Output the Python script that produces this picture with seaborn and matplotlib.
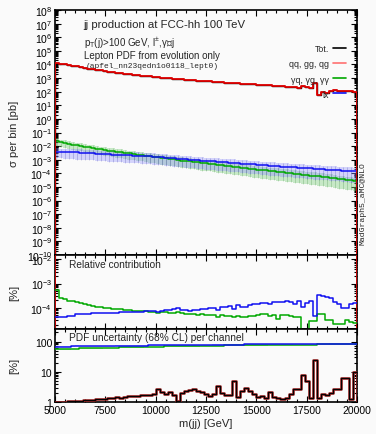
import numpy as np
import pandas as pd
import matplotlib
matplotlib.use("Agg")
import matplotlib.pyplot as plt
import seaborn as sns
from matplotlib.lines import Line2D
from matplotlib.ticker import LogLocator, NullFormatter, MultipleLocator

# ---------------- data ----------------
edges = list(range(5000, 20001, 200))  # 75 bins

total_pb = [12600, 11300, 10100, 9000, 8000,
            7100, 6300, 5600, 5000, 4450,
            3980, 3630, 3310, 3020, 2750,
            2510, 2300, 2110, 1930, 1770,
            1660, 1540, 1420, 1310, 1210,
            1175, 1090, 1010, 950, 890,
            850, 800, 760, 720, 690,
            660, 630, 590, 560, 530,
            520, 480, 470, 440, 450,
            400, 390, 380, 350, 345,
            330, 320, 300, 290, 270,
            250, 245, 230, 225, 205,
            200, 260, 210, 190, 430,
            55, 95, 85, 120, 130,
            120, 115, 110, 105, 100]

# lepton-initiated (lx) and photon-initiated cross sections, log10(pb)
lx_log = [-2.40, -2.41, -2.42, -2.43, -2.44,
          -2.45, -2.47, -2.49, -2.51, -2.53,
          -2.55, -2.57, -2.58, -2.60, -2.62,
          -2.64, -2.65, -2.66, -2.68, -2.69,
          -2.70, -2.72, -2.74, -2.76, -2.78,
          -2.80, -2.83, -2.85, -2.87, -2.90,
          -2.93, -2.95, -2.97, -2.99, -3.02,
          -3.05, -3.06, -3.09, -3.11, -3.13,
          -3.15, -3.17, -3.19, -3.21, -3.23,
          -3.25, -3.28, -3.30, -3.33, -3.35,
          -3.37, -3.40, -3.41, -3.44, -3.46,
          -3.48, -3.50, -3.52, -3.54, -3.56,
          -3.58, -3.60, -3.62, -3.62, -3.66,
          -3.68, -3.69, -3.72, -3.73, -3.75,
          -3.77, -3.80, -3.80, -3.84, -3.86]

ph_log = [-1.62, -1.72, -1.77, -1.83, -1.89,
          -1.95, -2.00, -2.05, -2.10, -2.15,
          -2.20, -2.24, -2.29, -2.33, -2.38,
          -2.42, -2.46, -2.50, -2.54, -2.58,
          -2.62, -2.66, -2.70, -2.74, -2.78,
          -2.82, -2.86, -2.90, -2.94, -2.98,
          -3.02, -3.06, -3.09, -3.13, -3.16,
          -3.20, -3.24, -3.27, -3.31, -3.34,
          -3.38, -3.42, -3.45, -3.48, -3.52,
          -3.55, -3.59, -3.62, -3.66, -3.69,
          -3.73, -3.76, -3.79, -3.82, -3.85,
          -3.89, -3.92, -3.95, -3.98, -4.02,
          -4.05, -4.09, -4.12, -4.16, -4.19,
          -4.22, -4.26, -4.30, -4.34, -4.37,
          -4.42, -4.45, -4.50, -4.50, -4.58]

# relative contributions, log10 of percent
rel_lx_log = [-4.40, -4.38, -4.36, -4.35, -4.33,
              -4.25, -4.24, -4.25, -4.24, -4.23,
              -4.23, -4.22, -4.22, -4.21, -4.20,
              -4.20, -4.19, -4.18, -4.18, -4.17,
              -4.17, -4.16, -4.15, -4.13, -4.14,
              -4.17, -4.12, -4.10, -4.11, -4.07,
              -4.02, -4.08, -4.10, -4.12, -4.11,
              -4.08, -4.05, -4.03, -4.00, -4.02,
              -4.10, -3.98, -3.95, -3.93, -4.05,
              -3.87, -3.95, -3.97, -3.90, -3.85,
              -3.84, -3.82, -3.80, -3.86, -3.78,
              -3.76, -3.75, -3.74, -3.78, -3.85,
              -3.72, -3.95, -3.80, -3.72, -4.33,
              -3.47, -3.50, -3.55, -3.60, -3.75,
              -3.85, -4.00, -4.00, -3.85, -3.80]

rel_ph_log = [-3.25, -3.60, -3.65, -3.70, -3.74,
              -3.78, -3.82, -3.86, -3.89, -3.92,
              -3.95, -3.97, -4.00, -4.02, -4.04,
              -4.06, -4.07, -4.09, -4.10, -4.12,
              -4.13, -4.14, -4.15, -4.16, -4.17,
              -4.22, -4.18, -4.19, -4.21, -4.20,
              -4.18, -4.23, -4.25, -4.27, -4.26,
              -4.28, -4.27, -4.30, -4.29, -4.31,
              -4.36, -4.30, -4.32, -4.34, -4.40,
              -4.33, -4.37, -4.38, -4.35, -4.32,
              -4.28, -4.25, -4.27, -4.35, -4.30,
              -4.47, -4.30, -4.28, -4.32, -4.37,
              -4.37, -5.00, -5.00, -4.53, -4.53,
              -4.24, -4.24, -4.50, -4.52, -4.65,
              -4.65, -4.65, -4.50, -4.60, -4.62]

# PDF uncertainty per channel [%]
unc_lx = [68, 68, 68, 68, 69, 72, 70, 70, 70, 70,
          70, 71, 71, 71, 71, 72, 72, 72, 72, 73,
          73, 73, 73, 74, 74, 74, 74, 75, 75, 75,
          75, 76, 76, 76, 76, 77, 77, 77, 77, 78,
          78, 78, 78, 79, 79, 79, 79, 80, 80, 80,
          80, 81, 81, 81, 81, 82, 82, 82, 82, 83,
          83, 83, 83, 84, 84, 84, 84, 84, 85, 85,
          85, 85, 86, 86, 86]
unc_ph = [55, 56, 57, 57, 58, 58, 59, 59, 60, 60,
          61, 61, 62, 62, 63, 63, 64, 64, 65, 65,
          66, 66, 67, 67, 67, 68, 68, 69, 69, 69,
          70, 70, 70, 71, 71, 71, 72, 72, 72, 73,
          73, 73, 74, 74, 74, 74, 75, 75, 75, 76,
          76, 76, 76, 77, 77, 77, 77, 78, 78, 78,
          78, 79, 79, 79, 79, 80, 80, 80, 80, 81,
          81, 81, 82, 82, 82]
unc_tot = [1.0, 1.0, 1.0, 1.05, 1.05, 1.1, 1.1, 1.15, 1.2, 1.2,
           1.25, 1.3, 1.3, 1.35, 1.4, 1.45, 1.4, 1.5, 1.55, 1.6,
           1.6, 1.65, 1.7, 1.7, 1.9, 2.6, 2.2, 1.9, 2.1, 1.7,
           1.1, 2.0, 2.3, 2.5, 2.6, 2.4, 2.2, 1.9, 1.6, 1.9,
           3.3, 2.0, 1.7, 1.7, 4.9, 1.5, 2.3, 2.8, 2.3, 1.8,
           1.5, 1.6, 1.4, 2.1, 1.5, 1.4, 1.3, 1.4, 1.9, 2.7,
           2.7, 8.0, 4.8, 1.4, 24.0, 1.4, 1.8, 1.7, 2.0, 2.6,
           2.6, 6.0, 6.0, 1.3, 10.0]

legend_labels = ["Tot.", "qq, gg, qg", "γq, γg, γγ", "lx"]

# ---------------- derived ----------------
edges_a = np.array(edges, dtype=float)
tot = np.array(total_pb, dtype=float)
sig_lx = 10.0 ** np.array(lx_log)
sig_ph = 10.0 ** np.array(ph_log)
rel_lx = 10.0 ** np.array(rel_lx_log)
rel_ph = 10.0 ** np.array(rel_ph_log)
u_lx = np.array(unc_lx, dtype=float)
u_ph = np.array(unc_ph, dtype=float)
u_tot = np.array(unc_tot, dtype=float)
centers = 0.5 * (edges_a[:-1] + edges_a[1:])

C_RED = "#e00000"
C_GREEN = "#00a800"
C_BLUE = "#1010f0"
BG = "#fafafa"

sns.set_theme(style="ticks")
plt.rcParams["font.family"] = ["Liberation Sans", "DejaVu Sans"]
plt.rcParams["mathtext.default"] = "regular"
plt.rcParams["axes.linewidth"] = 1.2

fig = plt.figure(figsize=(3.76, 4.35), dpi=100, facecolor=BG)
L, R = 55 / 376, 357 / 376
def yf(px):
    return 1 - px / 435
ax1 = fig.add_axes([L, yf(256), R - L, yf(11) - yf(256)])
ax2 = fig.add_axes([L, yf(329.5), R - L, yf(256) - yf(329.5)], sharex=ax1)
ax3 = fig.add_axes([L, yf(403), R - L, yf(329.5) - yf(403)], sharex=ax1)


def step_df(vals, base=None):
    x = list(edges_a)
    y = list(vals) + [vals[-1]]
    if base is not None:
        x = [edges_a[0]] + x + [edges_a[-1]]
        y = [base] + y + [base]
    return pd.DataFrame({"x": x, "y": y})


def draw_step(ax, vals, color, lw, base=None, zorder=3, alpha=1.0):
    df = step_df(vals, base)
    sns.lineplot(data=df, x="x", y="y", ax=ax, color=color, lw=lw,
                 drawstyle="steps-post", estimator=None, sort=False,
                 legend=False, zorder=zorder, alpha=alpha)


def draw_band(ax, lo, hi, fc, ec, alpha):
    ax.fill_between(edges_a, np.append(lo, lo[-1]), np.append(hi, hi[-1]),
                    step="post", color=fc, alpha=alpha, lw=0, zorder=1)
    ax.vlines(centers, lo, hi, color=ec, lw=0.5, alpha=0.25, zorder=1)


for ax in (ax1, ax2, ax3):
    ax.set_facecolor(BG)
    ax.set_yscale("log")

# ---- main panel ----
draw_band(ax1, sig_ph * (1 - u_ph / 100), sig_ph * (1 + u_ph / 100), "#7ccf7c", "#006000", 0.4)
draw_band(ax1, sig_lx * (1 - u_lx / 100), sig_lx * (1 + u_lx / 100), "#9494ff", "#000080", 0.38)
draw_step(ax1, sig_ph, C_GREEN, 1.1)
draw_step(ax1, sig_lx, C_BLUE, 1.1)
draw_step(ax1, tot, "black", 1.0, base=1e-12, zorder=4)
draw_step(ax1, tot, C_RED, 1.3, base=1e-12, zorder=5)
ax1.set_ylim(1e-10, 1e8)
ax1.set_xlim(5000, 20000)
ax1.set_yticks([10.0 ** k for k in range(-10, 9)])
ax1.yaxis.set_minor_locator(LogLocator(base=10, subs=np.arange(2, 10), numticks=40))
ax1.yaxis.set_minor_formatter(NullFormatter())
ax1.set_ylabel("σ per bin [pb]", fontsize=8)

handles = [Line2D([], [], color="black", lw=1.2),
           Line2D([], [], color="#ff7070", lw=1.2),
           Line2D([], [], color=C_GREEN, lw=1.2),
           Line2D([], [], color=C_BLUE, lw=1.2)]
ax1.legend(handles, legend_labels, loc="upper right", bbox_to_anchor=(0.975, 0.874),
           frameon=False, markerfirst=False, fontsize=6.4, handlelength=1.4,
           handletextpad=0.5, labelspacing=0.68, borderaxespad=0)

ax1.text(0.095, 0.962, "jj production at FCC-hh 100 TeV", transform=ax1.transAxes,
         fontsize=8.2, va="top", ha="left")
ax1.text(0.095, 0.9, "p$_T$(j)>100 GeV, l$^{\\pm}$,γ∈j", transform=ax1.transAxes,
         fontsize=7.0, va="top", ha="left")
ax1.text(0.095, 0.838, "Lepton PDF from evolution only", transform=ax1.transAxes,
         fontsize=7.0, va="top", ha="left")
ax1.text(0.1, 0.786, "(apfel_nn23qedn1o0118_lept0)", transform=ax1.transAxes,
         fontsize=5.7, va="top", ha="left", family="Liberation Mono")
fig.text(363 / 376, yf(204), "MadGraph5_aMC@NLO", rotation=90, fontsize=5.9,
         ha="center", va="center", family="Liberation Mono")

# ---- relative contribution ----
draw_step(ax2, np.full(len(tot), 100.0), C_RED, 1.2, base=1e-12)
draw_step(ax2, rel_ph, C_GREEN, 1.1)
draw_step(ax2, rel_lx, C_BLUE, 1.1)
ax2.set_ylim(1.4e-5, 1.5e-2)
ax2.set_yticks([1e-4, 1e-3, 1e-2])
ax2.yaxis.set_minor_locator(LogLocator(base=10, subs=np.arange(2, 10), numticks=20))
ax2.yaxis.set_minor_formatter(NullFormatter())
ax2.set_ylabel("[%]", fontsize=8)
ax2.text(0.045, 0.95, "Relative contribution", transform=ax2.transAxes,
         fontsize=7.3, va="top", ha="left")

# ---- PDF uncertainty ----
ax3.fill_between(edges_a, np.append(u_ph - 3, u_ph[-1] - 3), np.append(u_ph, u_ph[-1]),
                 step="post", color="#80d080", alpha=0.5, lw=0)
ax3.fill_between(edges_a, np.append(u_lx - 3, u_lx[-1] - 3), np.append(u_lx + 2, u_lx[-1] + 2),
                 step="post", color="#9090ff", alpha=0.5, lw=0)
draw_step(ax3, u_ph, C_GREEN, 1.1)
draw_step(ax3, u_lx, C_BLUE, 1.1)
draw_step(ax3, u_tot, "#8a2020", 1.9, base=0.5)
draw_step(ax3, u_tot, "black", 0.7, base=0.5, zorder=4)
ax3.set_ylim(1, 270)
ax3.set_yticks([1, 10, 100])
ax3.set_yticklabels(["1", "10", "100"])
ax3.yaxis.set_minor_locator(LogLocator(base=10, subs=np.arange(2, 10), numticks=20))
ax3.yaxis.set_minor_formatter(NullFormatter())
ax3.set_ylabel("[%]", fontsize=8)
ax3.text(0.045, 0.95, "PDF uncertainty (68% CL) per channel", transform=ax3.transAxes,
         fontsize=7.3, va="top", ha="left")
ax3.set_xlabel("m(jj) [GeV]", fontsize=8, labelpad=2)

ax3.set_xticks([5000, 7500, 10000, 12500, 15000, 17500, 20000])
ax3.xaxis.set_minor_locator(MultipleLocator(500))

for ax in (ax1, ax2, ax3):
    ax.tick_params(which="both", direction="in", top=True, right=True,
                   labelsize=7.5, width=0.8, colors="black", pad=2)
    ax.tick_params(which="major", length=4)
    ax.tick_params(which="minor", length=2)
    for s in ax.spines.values():
        s.set_color("black")
        s.set_linewidth(1.2)
    if ax is not ax3:
        ax.tick_params(labelbottom=False)
        ax.set_xlabel("")
for ax in (ax1, ax2, ax3):
    ax.yaxis.set_label_coords(-0.118, 0.5)

fig.savefig("out.png", dpi=100, facecolor=BG)
